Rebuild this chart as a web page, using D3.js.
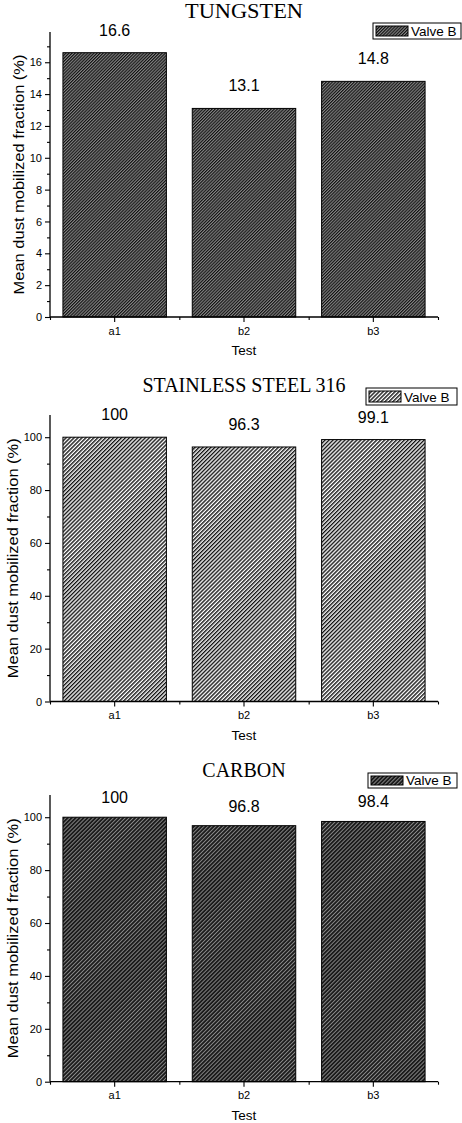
<!DOCTYPE html>
<html>
<head>
<meta charset="utf-8">
<script src="https://cdn.jsdelivr.net/npm/d3@7"></script>
<style>
  body { margin: 0; background: #fff; }
  svg text { font-family: "Liberation Sans", Arial, sans-serif; }
</style>
</head>
<body>
<svg id="chart" width="462" height="1123"></svg>
<script>
// data
const tests = ["a1", "b2", "b3"];
const tungsten = [16.6, 13.1, 14.8];
const steel316 = [100, 96.3, 99.1];
const carbon = [100, 96.8, 98.4];
const titles = ["TUNGSTEN", "STAINLESS STEEL 316", "CARBON"];
const legendLabel = "Valve B";
const tungstenTicks = [0, 2, 4, 6, 8, 10, 12, 14, 16];
const percentTicks = [0, 20, 40, 60, 80, 100];

// layout of the three stacked panels
const panels = [
  { values: tungsten, title: titles[0], titleLen: 118, ticks: tungstenTicks, minorStep: 1, yMax: 17.9,
    top: 32, bottom: 317, titleY: 18, legY: 23, legX: 373, legW: 88, legH: 16, labelGap: 17, pattern: "hatchGray" },
  { values: steel316, title: titles[1], titleLen: null, ticks: percentTicks, minorStep: 10, yMax: 108.4,
    top: 415, bottom: 701.5, titleY: 392, legY: 388, legX: 366, legW: 91, legH: 17, labelGap: 17, pattern: "hatchWhite" },
  { values: carbon, title: titles[2], titleLen: null, ticks: percentTicks, minorStep: 10, yMax: 108.4,
    top: 795, bottom: 1081.7, titleY: 777, legY: 773, legX: 368, legW: 89, legH: 15, labelGap: 14, pattern: "hatchBlack" }
];

const left = 50, right = 438;
const svg = d3.select("#chart");

// hatch fills, "/" diagonal stripes
const defs = svg.append("defs");
function hatch(id, period, bg, fg, lineW) {
  const p = defs.append("pattern")
    .attr("id", id)
    .attr("patternUnits", "userSpaceOnUse")
    .attr("width", period)
    .attr("height", period)
    .attr("patternTransform", "rotate(45)");
  p.append("rect").attr("width", period).attr("height", period).attr("fill", bg);
  p.append("rect").attr("width", lineW).attr("height", period).attr("fill", fg);
}
hatch("hatchGray", 2.2, "#858585", "#111", 1.1);
hatch("hatchWhite", 2.8, "#fff", "#111", 1.4);
hatch("hatchBlack", 2.8, "#1c1c1c", "#9a9a9a", 0.8);

panels.forEach(p => {
  const g = svg.append("g");

  const x = d3.scaleBand()
    .domain(tests)
    .range([left, right])
    .paddingInner(0.2)
    .paddingOuter(0.1);
  const xMinor = d3.scaleLinear().domain([0, tests.length]).range([left, right]);

  const y = d3.scaleLinear()
    .domain([0, p.yMax])
    .range([p.bottom, p.top]);

  // bars
  g.selectAll(".bar")
    .data(p.values)
    .enter().append("rect")
    .attr("class", "bar")
    .attr("x", (d, i) => x(tests[i]))
    .attr("width", x.bandwidth())
    .attr("y", d => y(d))
    .attr("height", d => y(0) - y(d))
    .attr("fill", `url(#${p.pattern})`)
    .attr("stroke", "#000")
    .attr("stroke-width", 1);

  // value labels
  g.selectAll(".val")
    .data(p.values)
    .enter().append("text")
    .attr("class", "val")
    .attr("x", (d, i) => x(tests[i]) + x.bandwidth() / 2)
    .attr("y", d => y(d) - p.labelGap)
    .attr("text-anchor", "middle")
    .style("font-size", "16px")
    .text(d => d);

  // y axis, major + minor ticks
  const minorVals = d3.range(p.minorStep, p.yMax, p.minorStep).filter(v => !p.ticks.includes(v));
  const yAxis = g.append("g")
    .attr("transform", `translate(${left},0)`)
    .call(d3.axisLeft(y).tickValues(p.ticks).tickSize(5).tickPadding(3));
  g.append("g")
    .attr("transform", `translate(${left},0)`)
    .call(d3.axisLeft(y).tickValues(minorVals).tickSize(3).tickFormat(""))
    .select(".domain").remove();
  yAxis.select(".domain").attr("d", `M0,${p.bottom}V${p.top}`);
  yAxis.selectAll("text").style("font-size", "11px");

  // x axis, major + minor ticks
  const xAxis = g.append("g")
    .attr("transform", `translate(0,${p.bottom})`)
    .call(d3.axisBottom(x).tickSize(5).tickPadding(5));
  xAxis.select(".domain").attr("d", `M${left},0H${right}`);
  xAxis.selectAll("text").style("font-size", "11px");
  g.append("g")
    .attr("transform", `translate(0,${p.bottom})`)
    .call(d3.axisBottom(xMinor).tickValues(d3.range(0, tests.length + 1)).tickSize(3).tickFormat(""))
    .select(".domain").remove();

  g.selectAll(".domain").attr("stroke-width", 1.3);
  g.selectAll(".tick line").attr("stroke-width", 1.1);

  // axis titles
  g.append("text")
    .attr("x", (left + right) / 2)
    .attr("y", p.bottom + 38)
    .attr("text-anchor", "middle")
    .style("font-size", "13.5px")
    .text("Test");

  const tickW = d3.max(yAxis.selectAll("text").nodes(), n => n.getComputedTextLength());
  g.append("text")
    .attr("transform", `translate(${left - 7 - tickW - 7},${(p.top + p.bottom) / 2}) rotate(-90)`)
    .attr("text-anchor", "middle")
    .attr("textLength", 240)
    .attr("lengthAdjust", "spacingAndGlyphs")
    .style("font-size", "14px")
    .text("Mean dust mobilized fraction (%)");

  // panel title
  const t = g.append("text")
    .attr("x", (left + right) / 2)
    .attr("y", p.titleY)
    .attr("text-anchor", "middle")
    .style("font-family", "'Liberation Serif', 'Times New Roman', serif")
    .style("font-size", "20px")
    .text(p.title);
  if (p.titleLen) t.attr("textLength", p.titleLen).attr("lengthAdjust", "spacingAndGlyphs");

  // legend
  const leg = g.append("g").attr("transform", `translate(${p.legX},${p.legY})`);
  leg.append("rect")
    .attr("width", p.legW).attr("height", p.legH)
    .attr("fill", "#fff").attr("stroke", "#000").attr("stroke-width", 1);
  leg.append("rect")
    .attr("x", 3).attr("y", 3)
    .attr("width", 32).attr("height", p.legH - 6)
    .attr("fill", `url(#${p.pattern})`)
    .attr("stroke", "#000").attr("stroke-width", 1);
  leg.append("text")
    .attr("x", 38).attr("y", p.legH - 3.5)
    .style("font-size", "13.5px")
    .text(legendLabel);
});
</script>
</body>
</html>
